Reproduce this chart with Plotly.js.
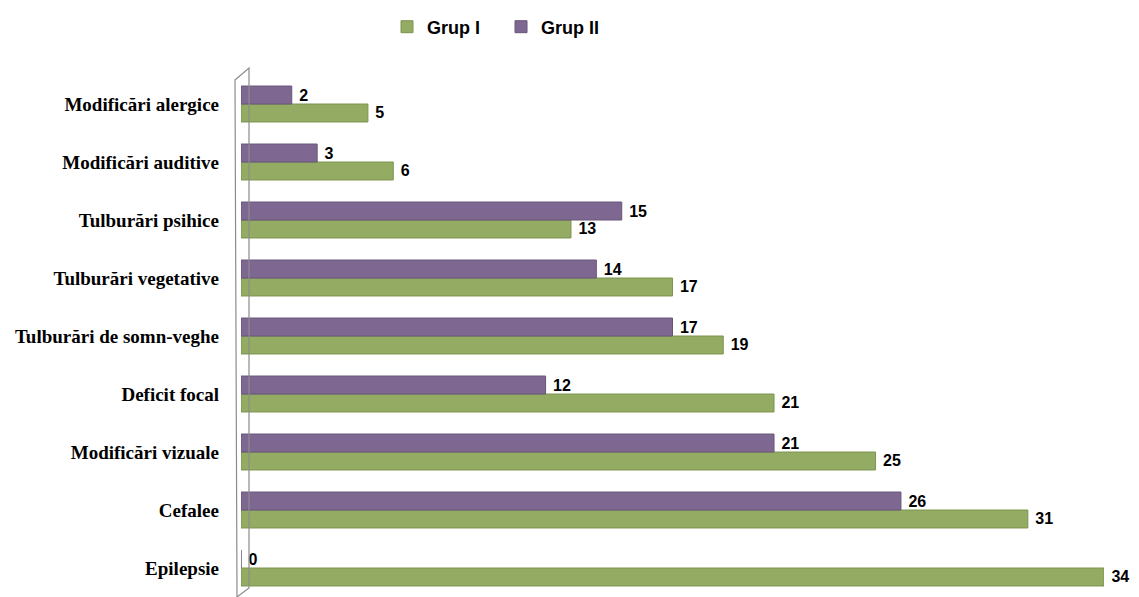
<!DOCTYPE html>
<html>
<head>
<meta charset="utf-8">
<script src="https://cdn.plot.ly/plotly-3.0.1.min.js"></script>
<style>html,body{margin:0;padding:0;background:#fff;}#chart{width:1139px;height:597px;}</style>
</head>
<body>
<div id="chart"></div>
<script>
// categories listed top to bottom as in the picture
const categories = ["Modificări alergice", "Modificări auditive", "Tulburări psihice", "Tulburări vegetative",
  "Tulburări de somn-veghe", "Deficit focal", "Modificări vizuale", "Cefalee", "Epilepsie"];
const grupI  = [5, 6, 13, 17, 19, 21, 25, 31, 34];
const grupII = [2, 3, 15, 14, 17, 12, 21, 26, 0];
const seriesNames = ["Grup I", "Grup II"];

const L = 241, R = 35, T = 75, B = 0, Wd = 1139, Ht = 597;
const PW = Wd - L - R, PH = Ht - T - B;
const px = v => (v - L) / PW;
const py = v => (Ht - B - v) / PH;

const valFont = {family: "Liberation Sans, Arial, sans-serif", size: 16, color: "#000", weight: "bold"};

const traces = [
  {type: "bar", orientation: "h", name: seriesNames[0], y: categories, x: grupI,
   marker: {color: "#93AB62", line: {color: "#7E9452", width: 1}},
   texttemplate: "\u00a0%{x}", textposition: "outside", textfont: valFont, cliponaxis: false},
  {type: "bar", orientation: "h", name: seriesNames[1], y: categories, x: grupII,
   marker: {color: "#7E6892", line: {color: "#68557A", width: 1}},
   texttemplate: "\u00a0%{x}", textposition: "outside", textfont: valFont, cliponaxis: false}
];

const wallPath = `M ${px(235)} ${py(80)} L ${px(249)} ${py(68)} L ${px(249)} ${py(588)} L ${px(237)} ${py(597)} Z`;

const layout = {
  width: Wd, height: Ht,
  margin: {l: L, r: R, t: T, b: B},
  paper_bgcolor: "#fff", plot_bgcolor: "rgba(0,0,0,0)",
  barmode: "group", bargap: 0.38, bargroupgap: 0,
  xaxis: {range: [0, 34], showgrid: false, zeroline: false, showticklabels: false, showline: false, ticks: ""},
  yaxis: {type: "category", categoryorder: "array", categoryarray: categories.slice().reverse(),
          range: [-0.5, 8.5], showgrid: false, zeroline: false, showline: false, ticks: "",
          ticklabelstandoff: 21,
          tickfont: {family: "Liberation Serif, Times New Roman, serif", size: 19, color: "#000", weight: "bold"}},
  showlegend: true,
  legend: {orientation: "h", xref: "container", yref: "container", x: 387/1139, y: 1 - 27/597,
           xanchor: "left", yanchor: "middle", traceorder: "normal",
           font: {family: "Liberation Sans, Arial, sans-serif", size: 18, color: "#000", weight: "bold"},
           itemwidth: 30, entrywidth: 69},
  shapes: [
    {type: "path", xref: "paper", yref: "paper", path: wallPath, layer: "above",
     fillcolor: "rgba(0,0,0,0)", line: {color: "#8C8C8C", width: 1.2}}
  ],
  font: {family: "Liberation Sans, Arial, sans-serif"}
};

Plotly.newPlot("chart", traces, layout, {displayModeBar: false, staticPlot: true});
</script>
</body>
</html>
